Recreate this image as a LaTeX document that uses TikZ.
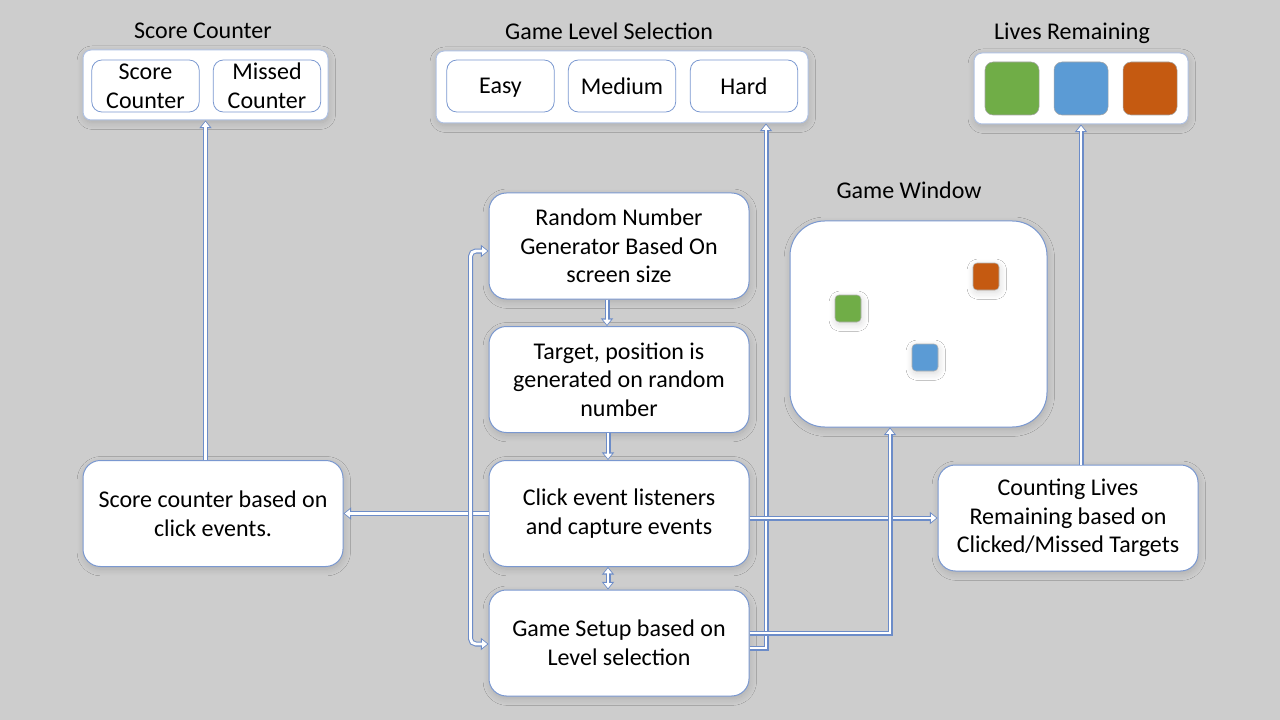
\documentclass[tikz,border=0pt]{standalone}
\usepackage{fontspec}
\setmainfont{Carlito}
\usetikzlibrary{arrows.meta,calc,shadows.blur}
\definecolor{bg}{RGB}{205,205,205}
\definecolor{edgec}{RGB}{108,140,200}
\definecolor{boxline}{RGB}{122,152,208}
\definecolor{sqgreen}{RGB}{112,173,71}
\definecolor{sqblue}{RGB}{91,155,213}
\definecolor{sqorange}{RGB}{197,90,17}
\begin{document}
\begin{tikzpicture}[x=0.75pt,y=-0.75pt,
  font=\fontsize{18}{21.5}\selectfont,
  ctipo/.tip={Triangle[length=5.8pt,width=9pt]},
  ctipi/.tip={Triangle[length=3.8pt,width=5.8pt]},
  conn/.style={draw=white, line width=2.2pt, -ctipi, shorten >=1pt,
    preaction={draw=edgec, line width=3.75pt, -ctipo, shorten >=0pt}},
  dconn/.style={draw=white, line width=2.2pt, ctipi-ctipi, shorten >=1pt, shorten <=1pt,
    preaction={draw=edgec, line width=3.75pt, ctipo-ctipo, shorten >=0pt, shorten <=0pt}},
  shad/.style={blur shadow={shadow blur steps=10, shadow xshift=0.6pt, shadow yshift=-2pt, shadow opacity=15, shadow blur radius=5pt}},
  mainbox/.style={draw=boxline, line width=0.75pt, fill=white, rounded corners=13pt,
    minimum width=195pt, minimum height=79.5pt, align=center, inner sep=0pt, shad},
  groupbox/.style={draw=boxline!60, line width=0.75pt, fill=white, rounded corners=6pt, inner sep=0pt, shad},
  inbox/.style={draw=boxline, line width=0.6pt, fill=white, rounded corners=7.5pt,
    minimum width=80.5pt, minimum height=39pt, align=center, inner sep=0pt},
  oneline/.style={text depth=0pt},
  bigsq/.style={rounded corners=6pt, minimum width=40.5pt, minimum height=39.75pt, inner sep=0pt, draw=gray!70, line width=0.4pt},
  smallsq/.style={rounded corners=3pt, minimum width=19.5pt, minimum height=20.25pt, inner sep=0pt, draw=gray!60, line width=0.4pt, shad},
  title/.style={inner sep=0pt}
]
\fill[bg] (0,0) rectangle (1280,720);
\useasboundingbox (0,0) rectangle (1280,720);

% titles
\node[title] (tscore) at (203,31) {Score Counter};
\node[title] (tlevel) at (609,31) {Game Level Selection};
\node[title] (tlives) at (1072,33) {Lives Remaining};
\node[title] (twin) at (909,190) {Game Window};

% group boxes
\node[groupbox, minimum width=183.75pt, minimum height=52.5pt] (scoreouter) at (205.5,85) {};
\node[inbox] (scorein) at (145.5,86) {Score\\Counter};
\node[inbox] (missedin) at (267,86) {Missed\\Counter};

\node[groupbox, minimum width=279pt, minimum height=54pt] (levelouter) at (622,87) {};
\node[inbox, oneline] (easy) at (500.5,86) {Easy};
\node[inbox, oneline] (medium) at (622,86) {Medium};
\node[inbox, oneline] (hard) at (744,86) {Hard};

\node[groupbox, minimum width=160.5pt, minimum height=53.25pt] (livesouter) at (1081,88.5) {};
\node[bigsq, fill=sqgreen] (lg) at (1012,88.5) {};
\node[bigsq, fill=sqblue] (lb) at (1081,88.5) {};
\node[bigsq, fill=sqorange] (lo) at (1150,88.5) {};

% game window
\node[draw=boxline, line width=0.75pt, fill=white, rounded corners=26pt, minimum width=192.75pt, minimum height=154.5pt, inner sep=0pt, shad] (gamewin) at (918.5,324) {};
\node[smallsq, fill=sqgreen] (wg) at (848,308.5) {};
\node[smallsq, fill=sqorange] (wo) at (986,276.5) {};
\node[smallsq, fill=sqblue] (wb) at (925,357.5) {};

% main boxes
\node[mainbox] (random) at (619,246) {Random Number\\Generator Based On\\screen size};
\node[mainbox] (target) at (619,379.5) {Target, position is\\generated on random\\number};
\node[mainbox] (click) at (619,513.5) {Click event listeners\\and capture events};
\node[mainbox] (setup) at (619,643) {Game Setup based on\\Level selection};
\node[mainbox] (scorebox) at (213,513.5) {Score counter based on\\click events.};
\node[mainbox] (lives) at (1068,518) {Counting Lives\\Remaining based on\\Clicked/Missed Targets};

\coordinate (hardin) at ($(levelouter.south -| hard.south)+(22,0)$);
\coordinate (winin) at ($(gamewin.south)+(-28.5,0)$);

% connectors
\draw[conn] (scorebox.north -| scoreouter.south) -- (scoreouter.south);
\draw[conn] (click.west) -- (scorebox.east);
\draw[conn] ($(setup.east)+(0,5)$) -| (hardin);
\draw[conn] (click.east |- lives.west) -- (lives.west);
\draw[conn] ($(setup.east)+(0,-10)$) -| (winin);
\draw[conn] (lives.north -| livesouter.south) -- (livesouter.south);
\draw[conn] ($(random.south)+(-12,0)$) -- ($(target.north)+(-12,0)$);
\draw[conn] ($(target.south)+(-11,0)$) -- ($(click.north)+(-11,0)$);
\draw[dconn] ($(click.south)+(-11,0)$) -- ($(setup.north)+(-11,0)$);
\draw[dconn, rounded corners=4pt] ($(random.west)+(0,5)$) -- ++(-18,0) |- ($(setup.west)+(0,1)$);
\end{tikzpicture}
\end{document}
